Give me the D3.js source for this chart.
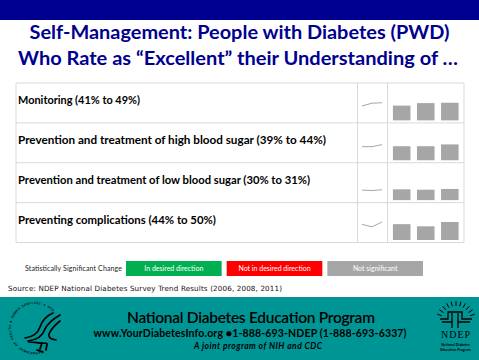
<!DOCTYPE html>
<html>
<head>
<meta charset="utf-8">
<script src="https://d3js.org/d3.v7.min.js"></script>
<style>
html, body { margin: 0; padding: 0; background: #fff; }
svg { display: block; }
text { font-family: Lato, "Open Sans", sans-serif; }
</style>
</head>
<body>
<svg width="479" height="360"></svg>
<script>
var titleLines = ["Self-Management: People with Diabetes (PWD)", "Who Rate as \u201cExcellent\u201d their Understanding of \u2026"];
var categories = [
    "Monitoring (41% to 49%)",
    "Prevention and treatment of high blood sugar (39% to 44%)",
    "Prevention and treatment of low blood sugar (30% to 31%)",
    "Preventing complications (44% to 50%)"
];
var years = ["2006", "2008", "2011"];
var monitoring = [41, 48, 49];
var highSugar = [39, 39, 44];
var lowSugar = [30, 29, 31];
var complications = [44, 38, 50];
var seriesValues = [monitoring, highSugar, lowSugar, complications];
var legendLabels = ["In desired direction", "Not in desired direction", "Not significant"];
var legendColors = ["#00b050", "#ff0000", "#a6a6a6"];
var footerLines = ["National Diabetes Education Program", "www.YourDiabetesInfo.org \u25cf1-888-693-NDEP (1-888-693-6337)", "A joint program of NIH and CDC"];
var sealText = "DEPARTMENT OF HEALTH & HUMAN SERVICES \u2022 USA";

var svg = d3.select("svg");
var navy = "#000090", teal = "#009595", gridc = "#d9d9d9";

// top band and title
svg.append("rect").attr("width", 479).attr("height", 20).attr("fill", navy);
svg.selectAll(".title").data(titleLines).enter().append("text").attr("class", "title")
    .attr("x", function (d, i) { return i ? 18 : 29.5; })
    .attr("y", function (d, i) { return 39 + i * 26; })
    .attr("font-size", 19).attr("font-weight", 700).attr("fill", navy)
    .attr("textLength", function (d, i) { return i ? 440 : 420; })
    .attr("lengthAdjust", "spacingAndGlyphs")
    .text(function (d) { return d; });

// table
var rowBand = d3.scaleBand().domain(d3.range(categories.length)).range([83, 242.5]);
var tableL = 16, col1 = 357.5, col2 = 387.5, tableR = 464;
var rows = svg.selectAll(".row").data(seriesValues).enter().append("g").attr("class", "row")
    .attr("transform", function (d, i) { return "translate(0," + rowBand(i) + ")"; });
var rowH = rowBand.bandwidth();

var x = d3.scaleBand().domain(years).range([390.5, 461]).paddingInner(0.27).paddingOuter(0.1);
var yBar = d3.scaleLinear().domain([0, 100]).range([0, 36]);
var xSpark = d3.scalePoint().domain(years).range([362, 382]);
var ySpark = d3.scaleLinear().domain([0, 100]).range([rowH - 0.5, rowH - 40.5]);

rows.selectAll(".bar").data(function (d) { return d; }).enter().append("rect").attr("class", "bar")
    .attr("x", function (d, i) { return x(years[i]); })
    .attr("width", x.bandwidth())
    .attr("y", function (d) { return rowH - 2.5 - yBar(d); })
    .attr("height", function (d) { return yBar(d); })
    .attr("fill", "#a6a6a6");

var sparkLine = d3.line()
    .x(function (d, i) { return xSpark(years[i]); })
    .y(function (d) { return ySpark(d); });
rows.append("path").attr("d", sparkLine).attr("fill", "none").attr("stroke", "#a6a6a6").attr("stroke-width", 1);

rows.append("text").attr("x", 18).attr("y", rowH / 2 + 1)
    .attr("font-size", 11.4).attr("font-weight", 700).attr("fill", "#000")
    .attr("textLength", function (d, i) { return [122, 308, 292, 198][i]; })
    .attr("lengthAdjust", "spacingAndGlyphs")
    .text(function (d, i) { return categories[i]; });

var grid = svg.append("g").attr("stroke", gridc).attr("stroke-width", 1).attr("fill", "none");
rowBand.domain().concat([categories.length]).forEach(function (i) {
    var yy = i < categories.length ? rowBand(i) : 242.5;
    grid.append("line").attr("x1", tableL).attr("x2", tableR).attr("y1", yy).attr("y2", yy);
});
[tableL, col1, col2, tableR].forEach(function (xx) {
    grid.append("line").attr("x1", xx).attr("x2", xx).attr("y1", 83).attr("y2", 242.5);
});

// legend
svg.append("text").attr("x", 25).attr("y", 271).attr("font-size", 7).attr("fill", "#222")
    .attr("textLength", 97).text("Statistically Significant Change");
var legendX = d3.scaleBand().domain(legendLabels).range([126, 423]).paddingInner(0.05);
svg.selectAll(".lg").data(legendLabels).enter().append("rect").attr("class", "lg")
    .attr("x", function (d) { return legendX(d); }).attr("y", 261)
    .attr("width", legendX.bandwidth()).attr("height", 15)
    .attr("fill", function (d, i) { return legendColors[i]; });
svg.selectAll(".lgt").data(legendLabels).enter().append("text").attr("class", "lgt")
    .attr("x", function (d) { return legendX(d) + legendX.bandwidth() / 2; }).attr("y", 271)
    .attr("text-anchor", "middle").attr("font-size", 7).attr("fill", "#fff")
    .text(function (d) { return d; });

svg.append("text").attr("x", 8).attr("y", 291).attr("font-size", 7.2).attr("fill", "#111")
    .style("font-family", "DejaVu Sans")
    .attr("textLength", 274).text("Source: NDEP National Diabetes Survey Trend Results (2006, 2008, 2011)");

// footer
svg.append("rect").attr("y", 297).attr("width", 479).attr("height", 63).attr("fill", teal);
svg.append("text").attr("x", 251).attr("y", 323).attr("text-anchor", "middle")
    .attr("font-size", 15.5).attr("font-weight", 600).attr("fill", "#000")
    .attr("textLength", 248).text(footerLines[0]);
svg.append("text").attr("x", 250).attr("y", 337).attr("text-anchor", "middle")
    .attr("font-size", 10.5).attr("font-weight", 700).attr("fill", "#000")
    .attr("textLength", 313).text(footerLines[1]);
svg.append("text").attr("x", 258).attr("y", 349).attr("text-anchor", "middle")
    .attr("font-size", 8.5).attr("font-weight", 700).attr("font-style", "italic").attr("fill", "#000")
    .attr("textLength", 128).text(footerLines[2]);

// HHS seal, drawn by hand. ring letters go one by one round the circle
var ringAngle = d3.scaleLinear().domain([0, sealText.length - 1]).range([-195, 45]);
svg.selectAll(".ring").data(sealText.split("")).enter().append("text").attr("class", "ring")
    .attr("font-size", 3.2).attr("font-weight", 700).attr("fill", "#000").attr("text-anchor", "middle")
    .attr("transform", function (d, i) {
        return "translate(35,328) rotate(" + ringAngle(i) + ") translate(0,-24)";
    })
    .text(function (d) { return d; });
var seal = svg.append("g").attr("fill", "none").attr("stroke", "#000").attr("stroke-linecap", "round");
["M53 313C46 316 42 321 40 327C38 333 32 337 25 338",
 "M60 315C53 319 48 323 45 329C43 335 37 340 28 341",
 "M60 321C55 325 51 329 49 334C48 337 50 339 56 340",
 "M29 342C35 342 42 344 46 343"].forEach(function (p) {
    seal.append("path").attr("d", p).attr("stroke-width", 1.7);
});
seal.append("path").attr("d", "M42 343L40 349M47 344L46 350M37 350L43 352").attr("stroke-width", 1.8);

// NDEP logo, drawn by hand
var logo = svg.append("g").attr("fill", "none").attr("stroke", "#000").attr("stroke-width", 1);
d3.range(-70, 71, 14).forEach(function (a) {
    var r = a * Math.PI / 180;
    logo.append("line").attr("x1", 456 + Math.sin(r) * 15).attr("y1", 321 - Math.cos(r) * 15)
        .attr("x2", 456 + Math.sin(r) * 20).attr("y2", 321 - Math.cos(r) * 20);
});
logo.append("path").attr("d", "M440 319H448V312H462V319H472").attr("stroke-width", 1.3);
logo.append("path").attr("d", "M442 322H452V313M458 313V322H470M452 322V328M458 322V328").attr("stroke-width", 1.3);
svg.append("text").attr("x", 455.5).attr("y", 338).attr("text-anchor", "middle")
    .style("font-family", "Liberation Serif").attr("font-size", 10).attr("fill", "#000")
    .attr("textLength", 29).text("NDEP");
svg.append("text").attr("x", 455.5).attr("y", 346).attr("text-anchor", "middle")
    .attr("font-size", 3.6).attr("font-weight", 700).attr("fill", "#000").text("National Diabetes");
svg.append("text").attr("x", 455.5).attr("y", 351).attr("text-anchor", "middle")
    .attr("font-size", 3.6).attr("font-weight", 700).attr("fill", "#000").text("Education Program");
</script>
</body>
</html>
